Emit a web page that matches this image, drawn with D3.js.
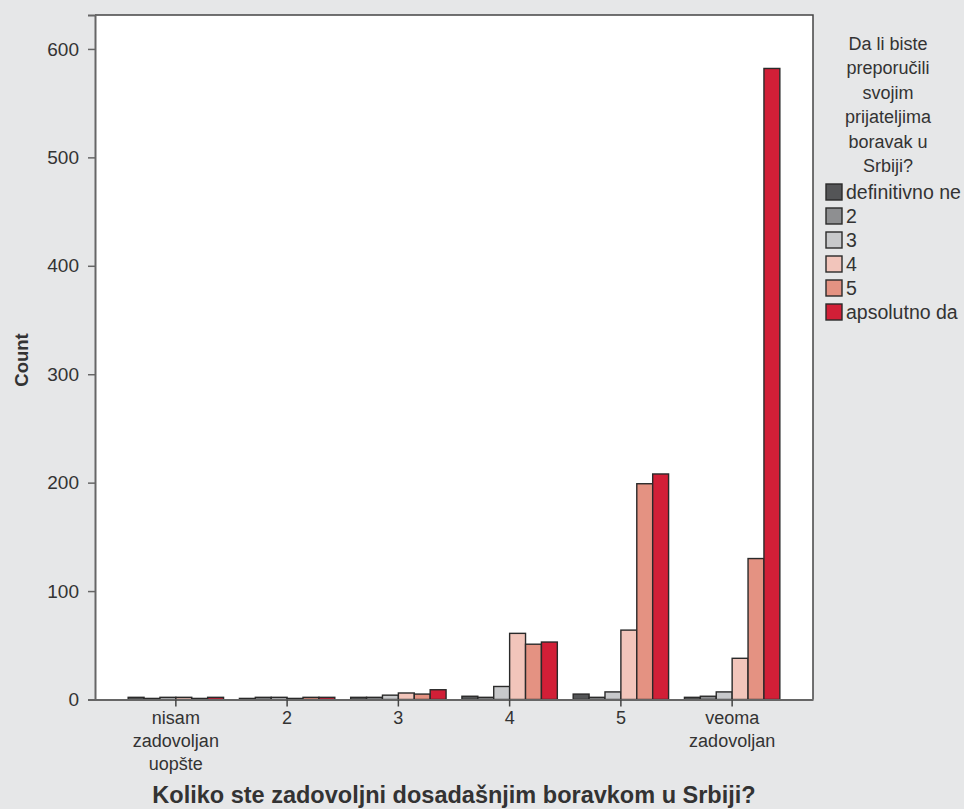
<!DOCTYPE html>
<html>
<head>
<meta charset="utf-8">
<script src="https://cdn.jsdelivr.net/npm/d3@7"></script>
<style>
  html, body { margin: 0; padding: 0; background: #e6e7e8; }
  svg { display: block; }
  text { font-family: "Liberation Sans", Arial, sans-serif; fill: #333; }
</style>
</head>
<body>
<svg id="chart" width="964" height="809"></svg>
<script>
// ---- data ----
const categories = ["nisam zadovoljan uopšte", "2", "3", "4", "5", "veoma zadovoljan"];
const seriesNames = ["definitivno ne", "2", "3", "4", "5", "apsolutno da"];
const sDefinitivnoNe = [2, 1, 2, 3, 5, 2];
const s2 = [1, 2, 2, 2, 2, 3];
const s3 = [2, 2, 4, 12, 7, 7];
const s4 = [2, 1, 6, 61, 64, 38];
const s5 = [1, 2, 5, 51, 199, 130];
const sApsolutnoDa = [2, 2, 9, 53, 208, 582];
const yTicks = [0, 100, 200, 300, 400, 500, 600];
const colors = ["#545557", "#8e8f91", "#c8c9cb", "#f2c5bb", "#e49282", "#d21f37"];
const xTitle = "Koliko ste zadovoljni dosadašnjim boravkom u Srbiji?";
const yTitle = "Count";
const legendTitle = ["Da li biste", "preporučili", "svojim", "prijateljima", "boravak u", "Srbiji?"];

const allSeries = [sDefinitivnoNe, s2, s3, s4, s5, sApsolutnoDa];

// ---- layout ----
const svg = d3.select("#chart");
const L = 95, R = 813, T = 15, B = 699.5;

svg.append("rect").attr("x", L).attr("y", T).attr("width", R - L).attr("height", B - T)
  .attr("fill", "#ffffff");

const x0 = d3.scaleBand().domain(categories).range([L, R]).paddingInner(0.1425).paddingOuter(0.298);
const x1 = d3.scaleBand().domain(seriesNames).range([0, x0.bandwidth()]);
const y = d3.scaleLinear().domain([0, 631.3]).range([B, T]);

// bars
const groups = svg.append("g").selectAll("g").data(categories).join("g")
  .attr("transform", d => `translate(${x0(d)},0)`);
groups.selectAll("rect")
  .data((c, ci) => seriesNames.map((s, si) => ({ s, si, v: allSeries[si][ci] })))
  .join("rect")
  .attr("x", d => x1(d.s))
  .attr("y", d => y(d.v))
  .attr("width", x1.bandwidth())
  .attr("height", d => B - y(d.v))
  .attr("fill", d => colors[d.si])
  .attr("stroke", "#2a2a2a")
  .attr("stroke-width", 1.4);

// frame (top, right)
svg.append("path").attr("d", `M${L},${T}H${R}V${B}`).attr("fill", "none")
  .attr("stroke", "#444").attr("stroke-width", 1.5);

// y axis
const yAxis = svg.append("g").attr("transform", `translate(${L},0)`)
  .call(d3.axisLeft(y).tickValues(yTicks).tickSize(7).tickPadding(9).tickFormat(d3.format("d")));
yAxis.select(".domain").attr("stroke", "#666").attr("stroke-width", 2);
yAxis.selectAll(".tick line").attr("stroke", "#666").attr("stroke-width", 1.5);
yAxis.selectAll(".tick text").attr("font-size", 19).attr("fill", "#333")
  .attr("font-family", "Liberation Sans, Arial, sans-serif");

// x axis
const xAxis = svg.append("g").attr("transform", `translate(0,${B})`)
  .call(d3.axisBottom(x0).tickSize(7).tickSizeOuter(0));
xAxis.select(".domain").attr("stroke", "#666").attr("stroke-width", 2);
xAxis.selectAll(".tick line").attr("stroke", "#444").attr("stroke-width", 1.5);
xAxis.selectAll(".tick text").remove();
const labelLines = {
  "nisam zadovoljan uopšte": ["nisam", "zadovoljan", "uopšte"],
  "veoma zadovoljan": ["veoma", "zadovoljan"]
};
xAxis.selectAll(".tick").append("text")
  .attr("text-anchor", "middle")
  .attr("font-size", 18)
  .attr("fill", "#333")
  .attr("font-family", "Liberation Sans, Arial, sans-serif")
  .selectAll("tspan")
  .data(d => labelLines[d] || [d])
  .join("tspan")
  .attr("x", 0)
  .attr("y", (d, i) => 24.5 + i * 23)
  .text(d => d);

// axis titles
svg.append("text").attr("x", (L + R) / 2).attr("y", 802.5)
  .attr("text-anchor", "middle").attr("font-size", 23.5).attr("font-weight", "bold")
  .attr("fill", "#111").text(xTitle);
svg.append("text").attr("transform", "translate(28,360) rotate(-90)")
  .attr("text-anchor", "middle").attr("font-size", 18.5).attr("font-weight", "bold")
  .attr("fill", "#111").text(yTitle);

// legend
const lg = svg.append("g");
lg.selectAll("text.lt").data(legendTitle).join("text").attr("class", "lt")
  .attr("x", 888).attr("y", (d, i) => 49.5 + i * 24.5)
  .attr("text-anchor", "middle").attr("font-size", 18).attr("fill", "#333")
  .text(d => d);
const items = lg.selectAll("g.item").data(seriesNames).join("g").attr("class", "item")
  .attr("transform", (d, i) => `translate(826,${184 + i * 24})`);
items.append("rect").attr("width", 16).attr("height", 16)
  .attr("fill", (d, i) => colors[i]).attr("stroke", "#2a2a2a").attr("stroke-width", 1.4);
items.append("text").attr("x", 20).attr("y", 15).attr("font-size", 19.5).attr("fill", "#333")
  .text(d => d);
</script>
</body>
</html>
